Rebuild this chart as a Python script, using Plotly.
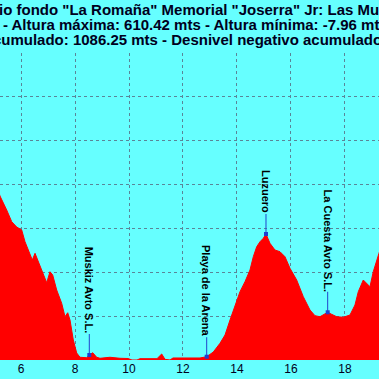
import plotly.graph_objects as go

# Profile (distance km, altitude m)
dist_km = [5.00, 5.222, 5.470, 5.656, 5.841, 6.026, 6.148, 6.333, 6.419, 6.519, 6.641, 6.826,
           6.952, 7.074, 7.174, 7.322, 7.507, 7.630, 7.730, 7.815, 7.937, 8.063, 8.185, 8.433,
           8.530, 8.656, 8.804, 8.926, 9.296, 9.667, 9.963, 10.111, 10.296, 10.407, 10.778,
           11.037, 11.211, 11.333, 11.519, 11.630, 12.074, 12.630, 12.878, 13.122, 13.370,
           13.556, 13.741, 13.926, 14.111, 14.296, 14.481, 14.604, 14.730, 14.852, 14.974,
           15.074, 15.222, 15.407, 15.593, 15.778, 15.963, 16.211, 16.456, 16.704, 16.889,
           17.074, 17.196, 17.359, 17.507, 17.693, 17.937, 18.185, 18.370, 18.493, 18.678,
           18.804, 18.926, 19.048, 19.174, 19.259, 19.50]
alt_m = [420, 373.9, 342.0, 315.3, 303.2, 296.4, 269.7, 244.0, 228.0, 243.3, 224.1, 198.4,
         176.2, 201.3, 193.8, 159.6, 129.3, 98.7, 107.8, 91.2, 45.6, 16.0, 6.2, 5.2,
         11.4, 16.6, 6.2, 3.9, 6.2, 3.9, 3.4, 0.0, 0.0, 3.0, 3.4,
         3.0, 13.7, 1.6, 0.0, 4.6, 4.6, 4.6, 7.5, 18.2, 38.1,
         57.0, 91.2, 121.5, 155.7, 178.5, 205.2, 235.5, 258.3, 269.7, 277.5,
         287.3, 266.1, 250.8, 246.9, 235.5, 209.1, 182.4, 144.3, 114.0, 101.0,
         98.7, 102.6, 108.8, 104.2, 98.7, 97.4, 102.6, 125.4, 155.7, 182.4,
         174.9, 167.1, 201.3, 224.1, 243.3, 290]

# Waypoints
wp_names = ["Muskiz Avto S.L.", "Playa de la Arena", "Luzuero", "La Cuesta Avto S.L."]
wp_km = [8.530, 12.878, 15.074, 17.359]
wp_alt = [11.4, 7.5, 287.3, 108.8]
wp_label_offset = [-65, -66, -42, -72]   # pixel offset of label centre above point

x_ticks = [6, 8, 10, 12, 14, 16, 18]
y_grid = [0, 100, 200, 300, 400, 500, 600, 700]

title_lines = [
    'Medio fondo "La Romaña" Memorial "Joserra" Jr: Las Muñecas - Muskiz',
    'Distancia: 21.10 Km - Altura máxima: 610.42 mts - Altura mínima: -7.96 mts',
    'Desnivel positivo acumulado: 1086.25 mts - Desnivel negativo acumulado: 1086.25 mts',
]
title_xshift = [-33, -145, -145]
title_yshift = [44, 29, 14]

BG = "#66FFFF"
FONT = "Liberation Sans, Arial, sans-serif"

fig = go.Figure()
fig.add_trace(go.Scatter(x=dist_km, y=alt_m, mode="lines", fill="tozeroy",
                         line=dict(color="#FF0000", width=1), fillcolor="#FF0000",
                         hoverinfo="skip", showlegend=False))

for name, xk, ya, off in zip(wp_names, wp_km, wp_alt, wp_label_offset):
    fig.add_annotation(x=xk, y=ya, xref="x", yref="y", text="<b>%s</b>" % name,
                       showarrow=True, ax=0, ay=off, arrowhead=0, arrowwidth=1,
                       arrowcolor="#2244cc", textangle=90,
                       borderpad=0, standoff=0,
                       font=dict(family=FONT, size=11, color="#000000"))

fig.add_trace(go.Scatter(x=wp_km, y=wp_alt, mode="markers",
                         marker=dict(color="#1f3fd0", size=4, symbol="square"),
                         hoverinfo="skip", showlegend=False))

for txt, xs, ys in zip(title_lines, title_xshift, title_yshift):
    fig.add_annotation(x=0, y=1, xref="paper", yref="paper", text="<b>%s</b>" % txt,
                       showarrow=False, xanchor="left", yanchor="middle",
                       xshift=xs, yshift=ys, align="left",
                       font=dict(family=FONT, size=15, color="#000020"))

fig.update_layout(
    width=379, height=379,
    margin=dict(l=0, r=0, t=53, b=19, pad=0),
    paper_bgcolor=BG, plot_bgcolor=BG,
    showlegend=False,
)
fig.update_xaxes(range=[5.222, 19.26], tickvals=x_ticks, ticktext=[str(v) for v in x_ticks],
                 showgrid=True, gridcolor="#5a8598", griddash="dot", gridwidth=1,
                 zeroline=False, showline=False, ticks="",
                 tickfont=dict(family=FONT, size=12, color="#000020"))
fig.update_yaxes(range=[0, 700], tickvals=y_grid, showticklabels=False,
                 showgrid=True, gridcolor="#5a8598", griddash="dot", gridwidth=1,
                 zeroline=False, showline=False, ticks="")

fig.write_html("out.html", config={"displayModeBar": False},
               post_script="document.body.style.margin='0';document.body.style.padding='0';"
                           "document.body.style.overflow='hidden';")
